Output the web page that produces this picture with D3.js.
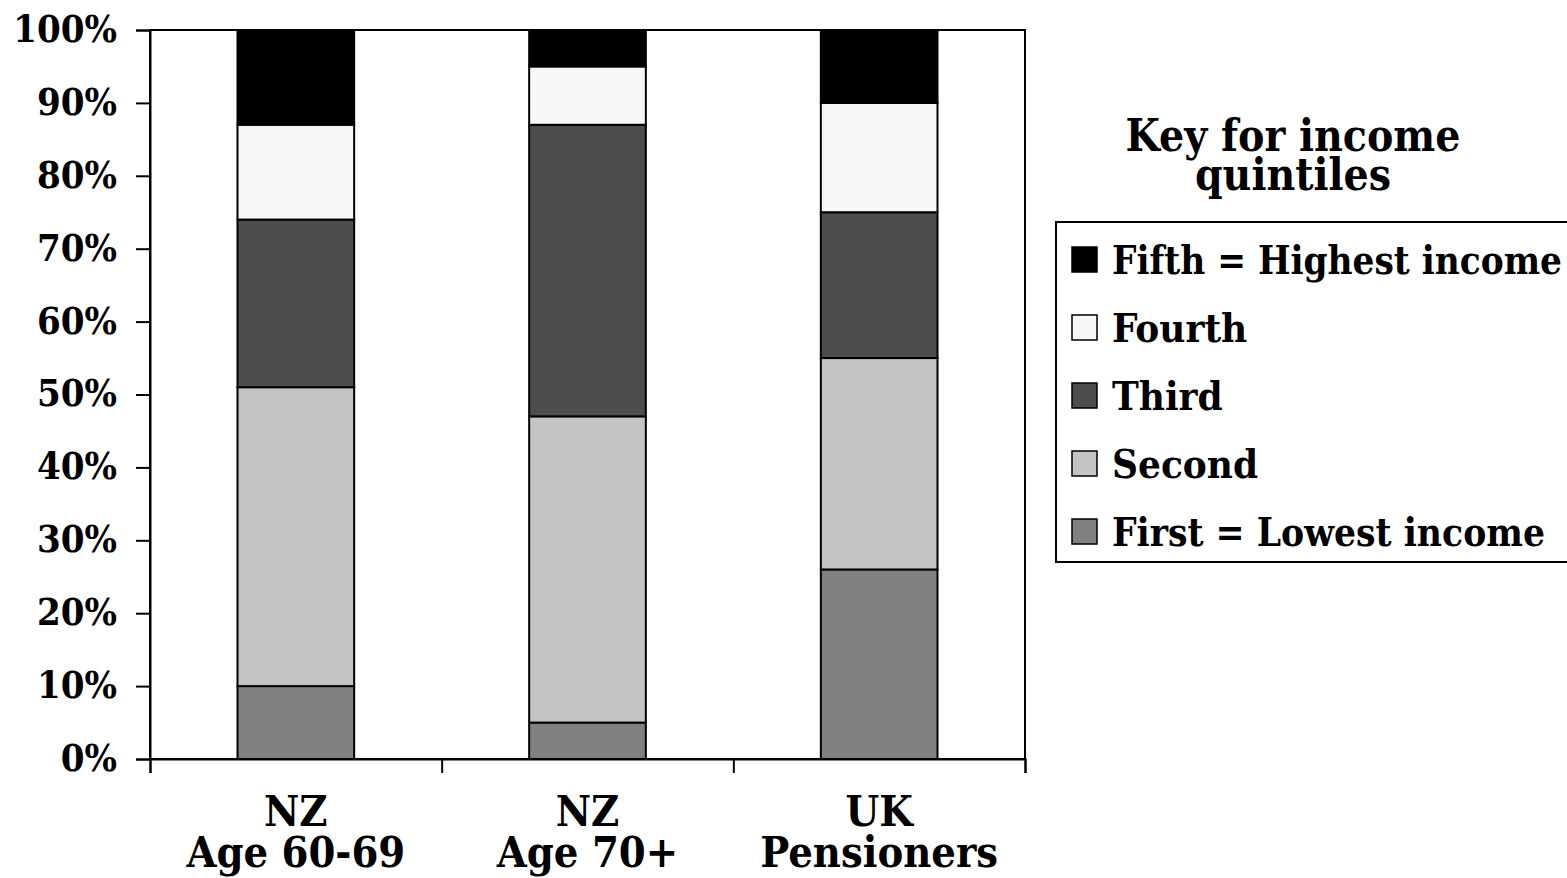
<!DOCTYPE html>
<html><head><meta charset="utf-8">
<script src="https://cdn.jsdelivr.net/npm/d3@7"></script>
<style>
body{margin:0;background:#fff;}
text{font-family:"DejaVu Serif Condensed","DejaVu Serif",serif;font-stretch:condensed;font-weight:bold;fill:#000;}
</style></head>
<body><svg id="c" width="1567" height="878"></svg>
<script>
const categories = [["NZ","Age 60-69"],["NZ","Age 70+"],["UK","Pensioners"]];
const quintiles = ["First = Lowest income","Second","Third","Fourth","Fifth = Highest income"];
const legendLabels = ["Fifth = Highest income","Fourth","Third","Second","First = Lowest income"];
const colors = ["#808080","#c4c4c4","#4d4d4d","#f7f7f7","#000000"];
const first  = [10, 5, 26];
const second = [41, 42, 29];
const third  = [23, 40, 20];
const fourth = [13, 8, 15];
const fifth  = [13, 5, 10];
const yTicks = [0,10,20,30,40,50,60,70,80,90,100];

const series = [first, second, third, fourth, fifth];
const rows = categories.map((c,i)=>{const o={cat:i}; quintiles.forEach((q,j)=>o[q]=series[j][i]); return o;});
const stacked = d3.stack().keys(quintiles)(rows);

const svg = d3.select("#c");
const L=150,R=1025,T=30,B=759;
const x = d3.scaleBand().domain(d3.range(categories.length)).range([L,R]).paddingInner(0.6).paddingOuter(0.3);
const y = d3.scaleLinear().domain([0,100]).range([B,T]);

svg.append("g").selectAll("g").data(stacked).join("g")
  .attr("fill",(d,i)=>colors[i])
  .selectAll("rect").data(d=>d).join("rect")
  .attr("x",(d,i)=>x(i)).attr("width",x.bandwidth())
  .attr("y",d=>y(d[1])).attr("height",d=>y(d[0])-y(d[1]))
  .attr("stroke","#000").attr("stroke-width",2);

svg.append("rect").attr("x",L).attr("y",T).attr("width",R-L).attr("height",B-T)
  .attr("fill","none").attr("stroke","#000").attr("stroke-width",2);

const ya = svg.append("g").attr("transform",`translate(${L},0)`)
  .call(d3.axisLeft(y).tickValues(yTicks).tickSize(14).tickPadding(19).tickFormat(d=>d+"%"));
ya.select(".domain").attr("stroke-width",2);
ya.selectAll(".tick line").attr("stroke-width",2);
ya.selectAll("text").attr("font-size",38).attr("dy","0.3em").style("font-family",null);

const xb = d3.scaleLinear().domain([0,categories.length]).range([L,R]);
const xa = svg.append("g").attr("transform",`translate(0,${B})`)
  .call(d3.axisBottom(xb).tickValues(d3.range(categories.length+1)).tickSize(14).tickFormat(""));
xa.select(".domain").attr("stroke-width",2);
xa.selectAll(".tick line").attr("stroke-width",2);

categories.forEach((c,i)=>{
  const cx = x(i)+x.bandwidth()/2;
  svg.append("text").attr("x",cx).attr("y",826).attr("text-anchor","middle").attr("font-size",43).text(c[0]);
  svg.append("text").attr("x",cx).attr("y",867).attr("text-anchor","middle").attr("font-size",43).text(c[1]);
});

svg.append("text").attr("x",1293).attr("y",151).attr("text-anchor","middle").attr("font-size",44).text("Key for income");
svg.append("text").attr("x",1293).attr("y",190).attr("text-anchor","middle").attr("font-size",44).text("quintiles");

svg.append("rect").attr("x",1056).attr("y",222).attr("width",520).attr("height",340)
  .attr("fill","#fff").attr("stroke","#000").attr("stroke-width",2);
const legColor = {"Fifth = Highest income":colors[4],"Fourth":colors[3],"Third":colors[2],"Second":colors[1],"First = Lowest income":colors[0]};
const legLen = {"Fifth = Highest income":450,"First = Lowest income":433};
const lg = svg.append("g").selectAll("g").data(legendLabels).join("g")
  .attr("transform",(d,i)=>`translate(1072,${259+i*68})`);
lg.append("rect").attr("x",0).attr("y",-12).attr("width",25).attr("height",25)
  .attr("fill",d=>legColor[d]).attr("stroke","#000").attr("stroke-width",1.5);
lg.append("text").attr("x",40).attr("y",15).attr("font-size",40)
  .attr("textLength",d=>legLen[d]||null).attr("lengthAdjust","spacingAndGlyphs").text(d=>d);
</script></body></html>
